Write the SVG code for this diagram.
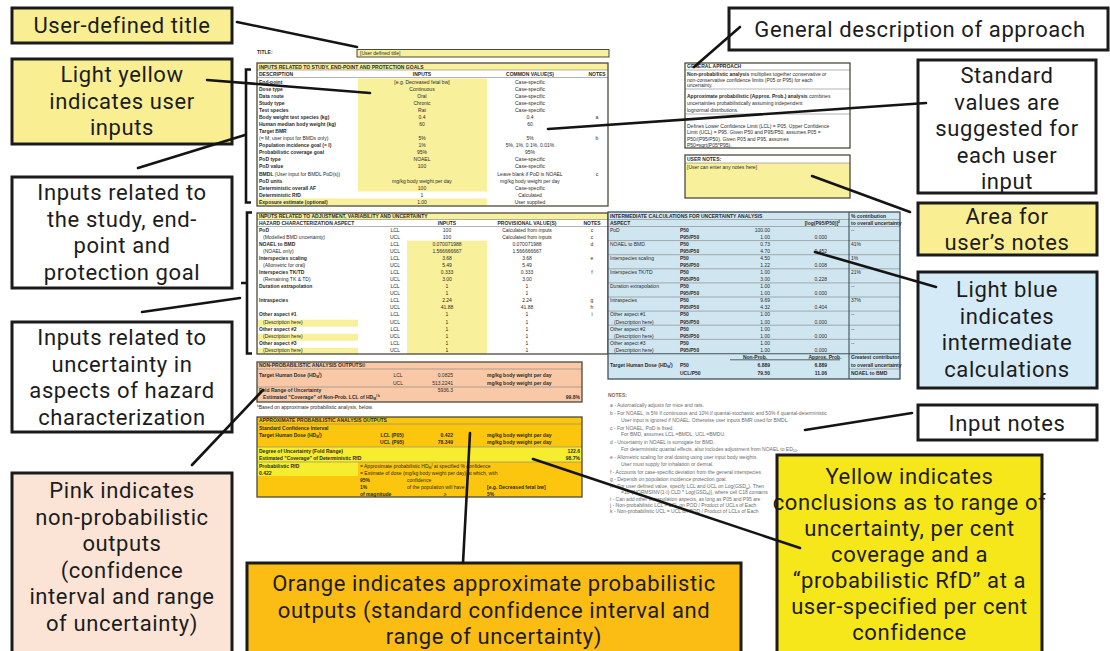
<svg xmlns="http://www.w3.org/2000/svg" width="1110" height="651" viewBox="0 0 1110 651">
  <style>
    .cb { stroke:#1b1b1b; stroke-width:3; }
    .ct { font-family:Roboto,"Liberation Sans",sans-serif; font-size:22px; letter-spacing:0.6px; fill:#1c1c1c; text-anchor:middle; }
    .ln { stroke:#141414; stroke-width:2.6; fill:none; stroke-linecap:round; }
    .br { stroke:#141414; stroke-width:2.6; fill:none; }
    .s { font-family:"Liberation Sans",Arial,sans-serif; font-size:5px; fill:#2b2b2b; }
    .b { font-weight:bold; }
    .m { text-anchor:middle; }
    .r { text-anchor:end; }
    .tb { stroke:#4b4b3c; stroke-width:1.3; fill:none; }
    .gl { stroke:#7f7f7f; stroke-width:0.6; }
    .nt { fill:#6b6b6b; }
    .ly { fill:#f8f09a; }
    .by { fill:#f6ed2e; }
  </style>

  <rect width="1110" height="651" fill="#ffffff"/>

  <!-- Worksheet -->
  <g id="sheet">
    <!-- title row -->
    <text class="s b" x="257" y="54">TITLE:</text>
    <rect x="357" y="49.5" width="252" height="7.5" class="ly" stroke="#4b4b3c" stroke-width="1"/>
    <text class="s" x="360" y="55">[User defined title]</text>

    <!-- study / end-point / protection goal inputs -->
    <g id="study-table">
      <rect x="257" y="63" width="351" height="143" fill="#ffffff"/>
      <rect x="257" y="63" width="351" height="7" class="ly"/>
      <rect x="358" y="78.5" width="129" height="113" class="ly"/>
      <rect x="257" y="198.5" width="230" height="7" class="ly"/>
      <line x1="257" y1="70" x2="608" y2="70" class="gl"/>
      <line x1="257" y1="77.5" x2="608" y2="77.5" class="gl"/>
      <rect x="257" y="63" width="351" height="143" class="tb"/>
      <text class="s b" x="259" y="68.5">INPUTS RELATED TO STUDY, END-POINT AND PROTECTION GOALS</text>
      <text class="s b" x="259" y="75.5">DESCRIPTION</text>
      <text class="s b m" x="422" y="75.5">INPUTS</text>
      <text class="s b m" x="530" y="75.5">COMMON VALUE(S)</text>
      <text class="s b m" x="597" y="75.5">NOTES</text>

      <text class="s b" x="259" y="83.8">End-point</text><text class="s m" x="422" y="83.8">[e.g. Decreased fetal bw]</text><text class="s m" x="530" y="83.8">Case-specific</text>
      <text class="s b" x="259" y="90.9">Dose type</text><text class="s m" x="422" y="90.9">Continuous</text><text class="s m" x="530" y="90.9">Case-specific</text>
      <text class="s b" x="259" y="97.9">Data route</text><text class="s m" x="422" y="97.9">Oral</text><text class="s m" x="530" y="97.9">Case-specific</text>
      <text class="s b" x="259" y="105">Study type</text><text class="s m" x="422" y="105">Chronic</text><text class="s m" x="530" y="105">Case-specific</text>
      <text class="s b" x="259" y="112">Test species</text><text class="s m" x="422" y="112">Rat</text><text class="s m" x="530" y="112">Case-specific</text>
      <text class="s b" x="259" y="119">Body weight test species (kg)</text><text class="s m" x="422" y="119">0.4</text><text class="s m" x="530" y="119">0.4</text><text class="s m" x="597" y="119">a</text>
      <text class="s b" x="259" y="126.1">Human median body weight (kg)</text><text class="s m" x="422" y="126.1">60</text><text class="s m" x="530" y="126.1">60</text>
      <text class="s b" x="259" y="133.2">Target BMR</text>
      <text class="s" x="259" y="140.2">(= M; user input for BMDs only)</text><text class="s m" x="422" y="140.2">5%</text><text class="s m" x="530" y="140.2">5%</text><text class="s m" x="597" y="140.2">b</text>
      <text class="s b" x="259" y="147.3">Population incidence goal (= I)</text><text class="s m" x="422" y="147.3">1%</text><text class="s m" x="530" y="147.3">5%, 1%, 0.1%, 0.01%</text>
      <text class="s b" x="259" y="154.3">Probabilistic coverage goal</text><text class="s m" x="422" y="154.3">95%</text><text class="s m" x="530" y="154.3">95%</text>
      <text class="s b" x="259" y="161.4">PoD type</text><text class="s m" x="422" y="161.4">NOAEL</text><text class="s m" x="530" y="161.4">Case-specific</text>
      <text class="s b" x="259" y="168.4">PoD value</text><text class="s m" x="422" y="168.4">100</text><text class="s m" x="530" y="168.4">Case-specific</text>
      <text class="s b" x="259" y="175.5">BMDL <tspan font-weight="normal">(User input for BMDL PoD(s))</tspan></text><text class="s m" x="530" y="175.5">Leave blank if PoD is NOAEL</text><text class="s m" x="597" y="175.5">c</text>
      <text class="s b" x="259" y="182.5">PoD units</text><text class="s m" x="422" y="182.5">mg/kg body weight per day</text><text class="s m" x="530" y="182.5">mg/kg body weight per day</text>
      <text class="s b" x="259" y="189.6">Deterministic overall AF</text><text class="s m" x="422" y="189.6">100</text><text class="s m" x="530" y="189.6">Case-specific</text>
      <text class="s b" x="259" y="196.6">Deterministic RfD</text><text class="s m" x="422" y="196.6">1</text><text class="s m" x="530" y="196.6">Calculated</text>
      <text class="s b" x="259" y="203.7">Exposure estimate (optional)</text><text class="s m" x="422" y="203.7">1.00</text><text class="s m" x="530" y="203.7">User supplied</text>
    </g>

    <!-- adjustment / variability / uncertainty inputs -->
    <g id="aspect-table">
      <rect x="257" y="213" width="351" height="141" fill="#ffffff"/>
      <rect x="257" y="213" width="351" height="6.5" class="ly"/>
      <rect x="407" y="240.6" width="80" height="113.4" class="ly"/>
      <rect x="257" y="319.7" width="101" height="7" class="ly"/>
      <rect x="257" y="333.8" width="101" height="7" class="ly"/>
      <rect x="257" y="347.9" width="101" height="6.1" class="ly"/>
      <line x1="257" y1="219.5" x2="608" y2="219.5" class="gl"/>
      <line x1="257" y1="226.5" x2="608" y2="226.5" class="gl"/>
      <rect x="257" y="213" width="351" height="141" class="tb"/>
      <text class="s b" x="259" y="218">INPUTS RELATED TO ADJUSTMENT, VARIABILITY AND UNCERTAINTY</text>
      <text class="s b" x="259" y="224.8">HAZARD CHARACTERIZATION ASPECT</text>
      <text class="s b m" x="447" y="224.8">INPUTS</text>
      <text class="s b m" x="527" y="224.8">PROVISIONAL VALUE(S)</text>
      <text class="s b m" x="592" y="224.8">NOTES</text>

      <text class="s b" x="259" y="231.8">PoD</text><text class="s m" x="395" y="231.8">LCL</text><text class="s m" x="447" y="231.8">100</text><text class="s m" x="527" y="231.8">Calculated from inputs</text><text class="s m" x="592" y="231.8">c</text>
      <text class="s" x="263" y="238.9">(Modelled BMD uncertainty)</text><text class="s m" x="395" y="238.9">UCL</text><text class="s m" x="447" y="238.9">100</text><text class="s m" x="527" y="238.9">Calculated from inputs</text><text class="s m" x="592" y="238.9">c</text>
      <text class="s b" x="259" y="245.9">NOAEL to BMD</text><text class="s m" x="395" y="245.9">LCL</text><text class="s m" x="447" y="245.9">0.070071988</text><text class="s m" x="527" y="245.9">0.070071988</text><text class="s m" x="592" y="245.9">d</text>
      <text class="s" x="263" y="253">(NOAEL only)</text><text class="s m" x="395" y="253">UCL</text><text class="s m" x="447" y="253">1.566666667</text><text class="s m" x="527" y="253">1.566666667</text>
      <text class="s b" x="259" y="260">Interspecies scaling</text><text class="s m" x="395" y="260">LCL</text><text class="s m" x="447" y="260">3.68</text><text class="s m" x="527" y="260">3.68</text><text class="s m" x="592" y="260">e</text>
      <text class="s" x="263" y="267">(Allometric for oral)</text><text class="s m" x="395" y="267">UCL</text><text class="s m" x="447" y="267">5.49</text><text class="s m" x="527" y="267">5.49</text>
      <text class="s b" x="259" y="274.1">Interspecies TK/TD</text><text class="s m" x="395" y="274.1">LCL</text><text class="s m" x="447" y="274.1">0.333</text><text class="s m" x="527" y="274.1">0.333</text><text class="s m" x="592" y="274.1">f</text>
      <text class="s" x="263" y="281.2">(Remaining TK &amp; TD)</text><text class="s m" x="395" y="281.2">UCL</text><text class="s m" x="447" y="281.2">3.00</text><text class="s m" x="527" y="281.2">3.00</text>
      <text class="s b" x="259" y="288.2">Duration extrapolation</text><text class="s m" x="395" y="288.2">LCL</text><text class="s m" x="447" y="288.2">1</text><text class="s m" x="527" y="288.2">1</text>
      <text class="s m" x="395" y="295.3">UCL</text><text class="s m" x="447" y="295.3">1</text><text class="s m" x="527" y="295.3">1</text>
      <text class="s b" x="259" y="302.3">Intraspecies</text><text class="s m" x="395" y="302.3">LCL</text><text class="s m" x="447" y="302.3">2.24</text><text class="s m" x="527" y="302.3">2.24</text><text class="s m" x="592" y="302.3">g</text>
      <text class="s m" x="395" y="309.4">UCL</text><text class="s m" x="447" y="309.4">41.88</text><text class="s m" x="527" y="309.4">41.88</text><text class="s m" x="592" y="309.4">h</text>
      <text class="s b" x="259" y="316.4">Other aspect #1</text><text class="s m" x="395" y="316.4">LCL</text><text class="s m" x="447" y="316.4">1</text><text class="s m" x="527" y="316.4">1</text><text class="s m" x="592" y="316.4">i</text>
      <text class="s" x="263" y="323.5">(Description here)</text><text class="s m" x="395" y="323.5">UCL</text><text class="s m" x="447" y="323.5">1</text><text class="s m" x="527" y="323.5">1</text>
      <text class="s b" x="259" y="330.5">Other aspect #2</text><text class="s m" x="395" y="330.5">LCL</text><text class="s m" x="447" y="330.5">1</text><text class="s m" x="527" y="330.5">1</text>
      <text class="s" x="263" y="337.6">(Description here)</text><text class="s m" x="395" y="337.6">UCL</text><text class="s m" x="447" y="337.6">1</text><text class="s m" x="527" y="337.6">1</text>
      <text class="s b" x="259" y="344.6">Other aspect #3</text><text class="s m" x="395" y="344.6">LCL</text><text class="s m" x="447" y="344.6">1</text><text class="s m" x="527" y="344.6">1</text>
      <text class="s" x="263" y="351.7">(Description here)</text><text class="s m" x="395" y="351.7">UCL</text><text class="s m" x="447" y="351.7">1</text><text class="s m" x="527" y="351.7">1</text>
    </g>

    <!-- intermediate calculations -->
    <g id="calc-table">
      <rect x="608" y="212" width="292" height="167" fill="#cfe6f1"/>
      <g class="gl">
        <line x1="608" y1="219.5" x2="900" y2="219.5"/>
        <line x1="608" y1="226.5" x2="900" y2="226.5"/>
        <line x1="608" y1="240.6" x2="900" y2="240.6"/>
        <line x1="608" y1="254.7" x2="900" y2="254.7"/>
        <line x1="608" y1="268.8" x2="900" y2="268.8"/>
        <line x1="608" y1="282.9" x2="900" y2="282.9"/>
        <line x1="608" y1="297" x2="900" y2="297"/>
        <line x1="608" y1="311.1" x2="900" y2="311.1"/>
        <line x1="608" y1="325.2" x2="900" y2="325.2"/>
        <line x1="608" y1="339.3" x2="900" y2="339.3"/>
        <line x1="849" y1="369" x2="900" y2="369"/>
      </g>
      <line x1="608" y1="353.8" x2="900" y2="353.8" stroke="#3f4f57" stroke-width="1.1"/>
      <line x1="730" y1="359.8" x2="840" y2="359.8" stroke="#3f4f57" stroke-width="0.9"/>
      <line x1="849" y1="212" x2="849" y2="379" stroke="#3f4f57" stroke-width="1.1"/>
      <rect x="608" y="212" width="292" height="167" stroke="#3f4f57" stroke-width="1.3" fill="none"/>
      <text class="s b" x="610" y="217.5">INTERMEDIATE CALCULATIONS FOR UNCERTAINTY ANALYSIS</text>
      <text class="s b" x="851" y="217.5">% contribution</text>
      <text class="s b" x="610" y="224.8">ASPECT</text>
      <text class="s b r" x="840" y="224.8">[log(P95/P50)]<tspan font-size="3.5" dy="-1.5">2</tspan></text>
      <text class="s b" x="851" y="224.8">to overall uncertainty</text>

      <text class="s" x="610" y="231.8">PoD</text><text class="s b" x="680" y="231.8">P50</text><text class="s r" x="770" y="231.8">100.00</text><text class="s" x="851" y="231.8">--</text>
      <text class="s b" x="680" y="238.9">P95/P50</text><text class="s r" x="770" y="238.9">1.00</text><text class="s r" x="827" y="238.9">0.000</text>
      <text class="s" x="610" y="245.9">NOAEL to BMD</text><text class="s b" x="680" y="245.9">P50</text><text class="s r" x="770" y="245.9">0.73</text><text class="s" x="851" y="245.9">41%</text>
      <text class="s b" x="680" y="253">P95/P50</text><text class="s r" x="770" y="253">4.70</text><text class="s r" x="827" y="253">0.452</text>
      <text class="s" x="610" y="260">Interspecies scaling</text><text class="s b" x="680" y="260">P50</text><text class="s r" x="770" y="260">4.50</text><text class="s" x="851" y="260">1%</text>
      <text class="s b" x="680" y="267">P95/P50</text><text class="s r" x="770" y="267">1.22</text><text class="s r" x="827" y="267">0.008</text>
      <text class="s" x="610" y="274.1">Interspecies TK/TD</text><text class="s b" x="680" y="274.1">P50</text><text class="s r" x="770" y="274.1">1.00</text><text class="s" x="851" y="274.1">21%</text>
      <text class="s b" x="680" y="281.2">P95/P50</text><text class="s r" x="770" y="281.2">3.00</text><text class="s r" x="827" y="281.2">0.228</text>
      <text class="s" x="610" y="288.2">Duration extrapolation</text><text class="s b" x="680" y="288.2">P50</text><text class="s r" x="770" y="288.2">1.00</text><text class="s" x="851" y="288.2">--</text>
      <text class="s b" x="680" y="295.3">P95/P50</text><text class="s r" x="770" y="295.3">1.00</text><text class="s r" x="827" y="295.3">0.000</text>
      <text class="s" x="610" y="302.3">Intraspecies</text><text class="s b" x="680" y="302.3">P50</text><text class="s r" x="770" y="302.3">9.69</text><text class="s" x="851" y="302.3">37%</text>
      <text class="s b" x="680" y="309.4">P95/P50</text><text class="s r" x="770" y="309.4">4.32</text><text class="s r" x="827" y="309.4">0.404</text>
      <text class="s" x="610" y="316.4">Other aspect #1</text><text class="s b" x="680" y="316.4">P50</text><text class="s r" x="770" y="316.4">1.00</text><text class="s" x="851" y="316.4">--</text>
      <text class="s" x="614" y="323.5">(Description here)</text><text class="s b" x="680" y="323.5">P95/P50</text><text class="s r" x="770" y="323.5">1.00</text><text class="s r" x="827" y="323.5">0.000</text>
      <text class="s" x="610" y="330.5">Other aspect #2</text><text class="s b" x="680" y="330.5">P50</text><text class="s r" x="770" y="330.5">1.00</text><text class="s" x="851" y="330.5">--</text>
      <text class="s" x="614" y="337.6">(Description here)</text><text class="s b" x="680" y="337.6">P95/P50</text><text class="s r" x="770" y="337.6">1.00</text><text class="s r" x="827" y="337.6">0.000</text>
      <text class="s" x="610" y="344.6">Other aspect #3</text><text class="s b" x="680" y="344.6">P50</text><text class="s r" x="770" y="344.6">1.00</text><text class="s" x="851" y="344.6">--</text>
      <text class="s" x="614" y="351.7">(Description here)</text><text class="s b" x="680" y="351.7">P95/P50</text><text class="s r" x="770" y="351.7">1.00</text><text class="s r" x="827" y="351.7">0.000</text>

      <text class="s b m" x="755" y="358.5">Non-Prob.</text>
      <text class="s b m" x="825" y="358.5">Approx. Prob.</text>
      <text class="s b" x="851" y="358.5">Greatest contributor</text>
      <text class="s b" x="610" y="367">Target Human Dose (HD<tspan font-size="3.5" dy="1.2">M</tspan><tspan font-size="3.5" dy="-3">I</tspan><tspan dy="1.8">)</tspan></text>
      <text class="s b" x="680" y="367">P50</text><text class="s b r" x="770" y="367">6.889</text><text class="s b r" x="827" y="367">6.889</text>
      <text class="s b" x="851" y="366.5">to overall uncertainty</text>
      <text class="s b" x="680" y="375">UCL/P50</text><text class="s b r" x="770" y="375">79.50</text><text class="s b r" x="827" y="375">11.06</text>
      <text class="s b" x="851" y="375">NOAEL to BMD</text>
    </g>

    <!-- general approach and user notes -->
    <g id="approach-box">
      <rect x="685" y="63" width="165" height="85" fill="#ffffff"/>
      <line x1="685" y1="70" x2="850" y2="70" class="gl"/>
      <line x1="685" y1="89" x2="850" y2="89" class="gl"/>
      <line x1="685" y1="114" x2="850" y2="114" class="gl"/>
      <rect x="685" y="63" width="165" height="85" class="tb"/>
      <text class="s b" x="687" y="68.2">GENERAL APPROACH</text>
      <text class="s" x="687" y="76"><tspan class="b">Non-probabilistic analysis</tspan> multiplies together conservative or</text>
      <text class="s" x="687" y="81.7">non-conservative confidence limits (P05 or P95) for each</text>
      <text class="s" x="687" y="87.4">uncertainty.</text>
      <text class="s" x="687" y="98.4"><tspan class="b">Approximate probabilistic (Approx. Prob.) analysis</tspan> combines</text>
      <text class="s" x="687" y="105">uncertainties probabilistically assuming independent</text>
      <text class="s" x="687" y="111.7">lognormal distributions.</text>
      <text class="s" x="687" y="127.7">Defines Lower Confidence Limit (LCL) = P05, Upper Confidence</text>
      <text class="s" x="687" y="134.4">Limit (UCL) = P95. Given P50 and P95/P50, assumes P05 =</text>
      <text class="s" x="687" y="140.7">P50/(P95/P50).  Given P05 and P95, assumes</text>
      <text class="s" x="687" y="146.7">P50=sqrt(P05*P95).</text>
    </g>
    <g id="notes-box">
      <rect x="685" y="155" width="165" height="43" class="ly"/>
      <rect x="685" y="155" width="165" height="8" fill="#ffffff"/>
      <line x1="685" y1="163" x2="850" y2="163" class="gl"/>
      <rect x="685" y="155" width="165" height="43" class="tb"/>
      <text class="s b" x="687" y="161">USER NOTES:</text>
      <text class="s" x="687" y="168.5">[User can enter any notes here]</text>
    </g>

    <!-- non-probabilistic outputs -->
    <g id="nonprob-table">
      <rect x="257" y="362" width="325" height="40" fill="#f9c9a7"/>
      <line x1="257" y1="369" x2="582" y2="369" class="gl"/>
      <line x1="257" y1="387" x2="582" y2="387" class="gl"/>
      <rect x="257" y="362" width="325" height="40" class="tb"/>
      <text class="s b" x="259" y="367.3">NON-PROBABILISTIC ANALYSIS OUTPUTS<tspan font-size="3.5" dy="-1.6">(j)</tspan></text>
      <text class="s b" x="259" y="377">Target Human Dose (HD<tspan font-size="3.5" dy="1.2">M</tspan><tspan font-size="3.5" dy="-3">I</tspan><tspan dy="1.8">)</tspan></text>
      <text class="s m" x="398" y="377">LCL</text><text class="s r" x="453" y="377">0.0825</text><text class="s b" x="487" y="377">mg/kg body weight per day</text>
      <text class="s m" x="398" y="385">UCL</text><text class="s r" x="453" y="385">513.2241</text><text class="s b" x="487" y="385">mg/kg body weight per day</text>
      <text class="s b" x="259" y="391.5">Fold Range of Uncertainty</text><text class="s r" x="453" y="391.5">5936.3</text>
      <text class="s b" x="263" y="398.5">Estimated "Coverage" of Non-Prob. LCL of HD<tspan font-size="3.5" dy="1.2">M</tspan><tspan font-size="3.5" dy="-3">I k</tspan></text>
      <text class="s b r" x="580" y="398.5">99.8%</text>
      <text class="s" x="257" y="409"><tspan font-size="3.5" dy="-1.6">k</tspan><tspan dy="1.6">Based on approximate probabilistic analysis, below.</tspan></text>
    </g>

    <!-- approximate probabilistic outputs -->
    <g id="prob-table">
      <rect x="257" y="417" width="325" height="80" fill="#fdc60e"/>
      <rect x="257" y="447" width="325" height="15" class="by"/>
      <rect x="257" y="462" width="101" height="14" class="by"/>
      <line x1="257" y1="424" x2="582" y2="424" class="gl"/>
      <line x1="257" y1="447" x2="582" y2="447" class="gl"/>
      <line x1="257" y1="462" x2="582" y2="462" class="gl"/>
      <rect x="257" y="417" width="325" height="80" class="tb"/>
      <text class="s b" x="259" y="422.3">APPROXIMATE PROBABILISTIC ANALYSIS OUTPUTS</text>
      <text class="s b" x="259" y="429.5">Standard Confidence Interval</text>
      <text class="s b" x="259" y="437">Target Human Dose (HD<tspan font-size="3.5" dy="1.2">M</tspan><tspan font-size="3.5" dy="-3">I</tspan><tspan dy="1.8">)</tspan></text>
      <text class="s b m" x="392" y="437">LCL (P05)</text><text class="s b r" x="453" y="437">0.422</text><text class="s b" x="487" y="437">mg/kg body weight per day</text>
      <text class="s b m" x="392" y="444">UCL (P95)</text><text class="s b r" x="453" y="444">78.349</text><text class="s b" x="487" y="444">mg/kg body weight per day</text>
      <text class="s b" x="259" y="453">Degree of Uncertainty (Fold Range)</text><text class="s b r" x="580" y="453">122.6</text>
      <text class="s b" x="259" y="460">Estimated "Coverage" of Deterministic RfD</text><text class="s b r" x="580" y="460">98.7%</text>
      <text class="s b" x="259" y="468">Probabilistic RfD</text>
      <text class="s b" x="259" y="475">0.422</text>
      <text class="s" x="360" y="468">= Approximate probabilistic HD<tspan font-size="3.5" dy="1.2">M</tspan><tspan font-size="3.5" dy="-3">I</tspan><tspan dy="1.8"> at specified % confidence</tspan></text>
      <text class="s" x="360" y="475">= Estimate of dose (mg/kg body weight per day) at which, with</text>
      <text class="s b" x="360" y="482">95%</text><text class="s" x="407" y="482">confidence</text>
      <text class="s b" x="360" y="489">1%</text><text class="s" x="407" y="489">of the population will have</text><text class="s b" x="487" y="489">[e.g. Decreased fetal bw]</text>
      <text class="s b" x="360" y="496">of magnitude</text><text class="s m" x="445" y="496">≥</text><text class="s b" x="487" y="496">5%</text>
    </g>

    <!-- footnotes -->
    <g id="footnotes" class="nt">
      <text class="s nt b" x="608" y="396.7">NOTES:</text>
      <text class="s nt" x="610" y="406.7">a - Automatically adjusts for mice and rats.</text>
      <text class="s nt" x="610" y="414.7">b - For NOAEL, is 5% if continuous and 10% if quantal-stochastic and 50% if quantal-deterministic</text>
      <text class="s nt" x="621" y="421.7">User input is ignored if NOAEL. Otherwise user inputs BMR used for BMDL.</text>
      <text class="s nt" x="610" y="429.7">c - For NOAEL, PoD is fixed.</text>
      <text class="s nt" x="621" y="436">For BMD, assumes LCL =BMDL, UCL =BMDU.</text>
      <text class="s nt" x="610" y="444.3">d - Uncertainty in NOAEL is surrogate for BMD.</text>
      <text class="s nt" x="621" y="451">For deterministic quantal effects, also includes adjustment from NOAEL to ED<tspan font-size="3.5" dy="1.2">50</tspan><tspan dy="-1.2">.</tspan></text>
      <text class="s nt" x="610" y="459.3">e -  Allometric scaling for oral dosing using user input body weights.</text>
      <text class="s nt" x="621" y="465.7">User must supply for inhalation or dermal.</text>
      <text class="s nt" x="610" y="474.3">f - Accounts for case-specific deviation from the general interspecies</text>
      <text class="s nt" x="610" y="481">g - Depends on population incidence protection goal.</text>
      <text class="s nt" x="610" y="488.3">h - For user defined value, specify LCL and UCL on Log(GSD<tspan font-size="3.5" dy="1.2">H</tspan><tspan dy="-1.2">). Then</tspan></text>
      <text class="s nt" x="621" y="494">=10^[NORMSINV(1-I) CLD * Log(GSD<tspan font-size="3.5" dy="1.2">H</tspan><tspan dy="-1.2">)], where cell C18 contains</tspan></text>
      <text class="s nt" x="610" y="501">i - Can add other extrapolation aspects, as long as P05 and P95 are</text>
      <text class="s nt" x="610" y="507">j - Non-probabilistic LCL = LCL on POD / Product of UCLs of Each</text>
      <text class="s nt" x="610" y="513.3">k - Non-probabilistic UCL = UCL on POD / Product of LCLs of Each</text>
    </g>

    <!-- section brackets -->
    <path class="br" d="M251,69.5 H246 V202.5 H251"/>
    <path class="br" d="M252,212.5 H247 V353.5 H252 M247,283 H241"/>
  </g>

  <!-- Callout boxes -->
  <g id="title-note">
    <rect x="12" y="8" width="220" height="35" fill="#f9ef92" class="cb"/>
    <text class="ct" x="122" y="33">User-defined title</text>
  </g>
  <g id="user-input-note">
    <rect x="12" y="59" width="220" height="85" fill="#f9ef92" class="cb"/>
    <text class="ct" x="122" y="82">Light yellow</text>
    <text class="ct" x="122" y="108.5">indicates user</text>
    <text class="ct" x="122" y="135">inputs</text>
  </g>
  <g id="study-note">
    <rect x="12" y="177" width="220" height="111" fill="#ffffff" class="cb"/>
    <text class="ct" x="122" y="200">Inputs related to</text>
    <text class="ct" x="122" y="226.5">the study, end-</text>
    <text class="ct" x="122" y="253">point and</text>
    <text class="ct" x="122" y="279.5">protection goal</text>
  </g>
  <g id="uncertainty-note">
    <rect x="12" y="322" width="220" height="110" fill="#ffffff" class="cb"/>
    <text class="ct" x="122" y="345">Inputs related to</text>
    <text class="ct" x="122" y="371.5">uncertainty in</text>
    <text class="ct" x="122" y="398">aspects of hazard</text>
    <text class="ct" x="122" y="424.5">characterization</text>
  </g>
  <g id="pink-note">
    <rect x="12" y="473" width="220" height="185" fill="#fbe4d5" class="cb"/>
    <text class="ct" x="122" y="498">Pink indicates</text>
    <text class="ct" x="122" y="524.6">non-probabilistic</text>
    <text class="ct" x="122" y="551.2">outputs</text>
    <text class="ct" x="122" y="577.8">(confidence</text>
    <text class="ct" x="122" y="604.4">interval and range</text>
    <text class="ct" x="122" y="631">of uncertainty)</text>
  </g>
  <g id="approach-note">
    <rect x="729" y="8" width="379" height="42" fill="#ffffff" class="cb"/>
    <text class="ct" x="920" y="37">General description of approach</text>
  </g>
  <g id="standard-note">
    <rect x="918" y="60" width="178" height="133" fill="#ffffff" class="cb"/>
    <text class="ct" x="1007" y="83">Standard</text>
    <text class="ct" x="1007" y="109.5">values are</text>
    <text class="ct" x="1007" y="136">suggested for</text>
    <text class="ct" x="1007" y="162.5">each user</text>
    <text class="ct" x="1007" y="189">input</text>
  </g>
  <g id="user-notes-note">
    <rect x="918" y="203" width="179" height="52" fill="#f9ef92" class="cb"/>
    <text class="ct" x="1007" y="223.5">Area for</text>
    <text class="ct" x="1007" y="250">user’s notes</text>
  </g>
  <g id="blue-note">
    <rect x="918" y="272" width="179" height="116" fill="#d5eaf7" class="cb"/>
    <text class="ct" x="1007" y="297">Light blue</text>
    <text class="ct" x="1007" y="323.5">indicates</text>
    <text class="ct" x="1007" y="350">intermediate</text>
    <text class="ct" x="1007" y="376.5">calculations</text>
  </g>
  <g id="input-notes-note">
    <rect x="918" y="405" width="179" height="35" fill="#ffffff" class="cb"/>
    <text class="ct" x="1007" y="431">Input notes</text>
  </g>
  <g id="yellow-note">
    <rect x="777" y="455" width="265" height="200" fill="#f6e71b" class="cb"/>
    <text class="ct" x="909.5" y="484">Yellow indicates</text>
    <text class="ct" x="909.5" y="510">conclusions as to range of</text>
    <text class="ct" x="909.5" y="536">uncertainty, per cent</text>
    <text class="ct" x="909.5" y="562">coverage and a</text>
    <text class="ct" x="909.5" y="588">“probabilistic RfD” at a</text>
    <text class="ct" x="909.5" y="614">user-specified per cent</text>
    <text class="ct" x="909.5" y="640">confidence</text>
  </g>
  <g id="orange-note">
    <rect x="247" y="563" width="494" height="95" fill="#fbbd14" class="cb"/>
    <text class="ct" x="494" y="591">Orange indicates approximate probabilistic</text>
    <text class="ct" x="494" y="618">outputs (standard confidence interval and</text>
    <text class="ct" x="494" y="644">range of uncertainty)</text>
  </g>

  <!-- Connectors -->
  <g id="connectors" class="ln">
    <line x1="237" y1="22" x2="357" y2="47"/>
    <line x1="207" y1="80" x2="370" y2="93"/>
    <line x1="138" y1="168" x2="245" y2="135"/>
    <line x1="142" y1="312" x2="240" y2="298"/>
    <line x1="192" y1="465" x2="263" y2="390"/>
    <line x1="740" y1="27" x2="694" y2="67"/>
    <line x1="926" y1="103" x2="548" y2="129"/>
    <line x1="910" y1="212" x2="812" y2="176"/>
    <line x1="936" y1="287" x2="815" y2="252"/>
    <line x1="912" y1="413" x2="805" y2="430"/>
    <line x1="800" y1="548" x2="533" y2="459"/>
    <line x1="470" y1="433" x2="463" y2="563"/>
  </g>
</svg>
